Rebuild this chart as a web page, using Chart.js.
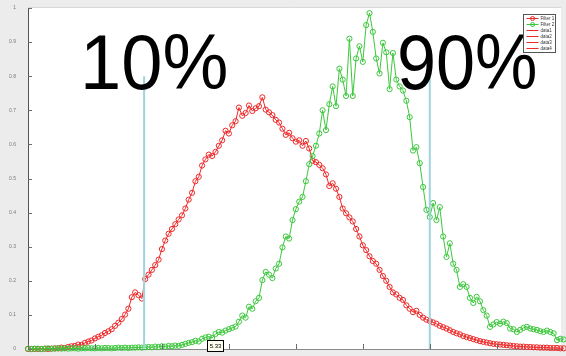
<!DOCTYPE html>
<html>
<head>
<meta charset="utf-8">
<script src="https://cdn.jsdelivr.net/npm/chart.js@4.4.1/dist/chart.umd.min.js"></script>
<style>
  html, body { margin: 0; padding: 0; background: #ececec; }
  #wrap { width: 566px; height: 356px; }
</style>
</head>
<body>
<div id="wrap"><canvas id="c" width="566" height="356"></canvas></div>
<script>
// Sampling grid of the two filter responses
const X_START = 4;
const X_STEP = 0.025;

// Filter 1 response (red)
const filter1 = [
  0,0,0,0,0,0.001,0,0.001,0.002,0.002,
  0.004,0.003,0.006,0.008,0.009,0.013,0.012,0.018,0.022,0.025,
  0.031,0.036,0.040,0.047,0.052,0.058,0.068,0.077,0.088,0.101,
  0.118,0.152,0.166,0.158,0.148,0.205,0.218,0.232,0.246,0.262,
  0.293,0.318,0.338,0.352,0.366,0.380,0.392,0.412,0.438,0.458,
  0.492,0.505,0.538,0.556,0.570,0.566,0.578,0.596,0.612,0.640,
  0.632,0.656,0.668,0.708,0.684,0.692,0.714,0.698,0.706,0.712,
  0.738,0.702,0.694,0.686,0.672,0.664,0.646,0.628,0.634,0.618,
  0.608,0.612,0.596,0.610,0.588,0.552,0.548,0.540,0.530,0.512,
  0.478,0.486,0.470,0.446,0.412,0.398,0.386,0.374,0.352,0.330,
  0.304,0.290,0.272,0.258,0.250,0.232,0.214,0.200,0.182,0.166,
  0.160,0.150,0.144,0.128,0.118,0.108,0.112,0.100,0.092,0.086,
  0.082,0.078,0.074,0.068,0.064,0.060,0.055,0.050,0.046,0.043,
  0.038,0.035,0.032,0.029,0.026,0.023,0.021,0.019,0.017,0.015,
  0.014,0.013,0.012,0.011,0.010,0.009,0.008,0.007,0.007,0.006,
  0.006,0.005,0.005,0.004,0.004,0.004,0.003,0.003,0.003,0.002,
  0.002
];

// Filter 2 response (green)
const filter2 = [
  0.001,0.000,0.001,0.001,0.000,0.001,0.002,0.001,0.001,0.002,
  0.001,0.002,0.001,0.002,0.002,0.001,0.002,0.002,0.003,0.002,
  0.002,0.003,0.002,0.003,0.003,0.002,0.003,0.004,0.003,0.004,
  0.003,0.004,0.004,0.005,0.004,0.005,0.006,0.005,0.007,0.006,
  0.008,0.007,0.009,0.008,0.010,0.009,0.012,0.015,0.018,0.020,
  0.024,0.022,0.030,0.034,0.036,0.032,0.044,0.050,0.048,0.054,
  0.058,0.062,0.066,0.080,0.098,0.092,0.124,0.118,0.140,0.150,
  0.202,0.226,0.218,0.208,0.236,0.250,0.298,0.330,0.324,0.378,
  0.410,0.432,0.446,0.492,0.542,0.566,0.596,0.632,0.700,0.642,
  0.718,0.770,0.712,0.822,0.790,0.742,0.910,0.742,0.852,0.888,
  0.842,0.950,0.985,0.930,0.852,0.808,0.898,0.870,0.762,0.868,
  0.790,0.770,0.758,0.728,0.680,0.582,0.592,0.545,0.475,0.408,
  0.387,0.428,0.378,0.416,0.330,0.270,0.310,0.250,0.232,0.182,
  0.190,0.182,0.150,0.135,0.153,0.140,0.114,0.098,0.065,0.072,
  0.079,0.074,0.080,0.076,0.060,0.058,0.050,0.056,0.062,0.065,
  0.060,0.058,0.056,0.052,0.050,0.054,0.050,0.046,0.026,0.030,
  0.028
];

const xTicks = [4, 4.5, 5, 5.5, 6, 6.5, 7, 7.5];
const yTicks = [0, 0.1, 0.2, 0.3, 0.4, 0.5, 0.6, 0.7, 0.8, 0.9, 1];

// Percentile markers
const p10 = 4.867;
const p90 = 7.0;
const markerTop = 0.8;
const percentLabels = ['10%', '90%'];

// Data tip value at the axis
const tipValue = 5.33;

const legendLabels = ['Filter 1', 'Filter 2', 'data1', 'data2', 'data3', 'data4'];

const RED = '#f02828';
const GREEN = '#3cc83c';
const CYAN = '#9fd3dd';

const toPoints = arr => arr.map((y, i) => ({ x: +(X_START + i * X_STEP).toFixed(3), y }));

const curveStyle = color => ({
  borderColor: color,
  borderWidth: 1,
  pointRadius: 2.6,
  pointBorderWidth: 1,
  pointBorderColor: color,
  pointBackgroundColor: 'rgba(255,255,255,0)',
  pointStyle: 'circle',
  tension: 0,
  clip: false
});

const inwardTicks = {
  id: 'inwardTicks',
  afterDraw(chart) {
    const { ctx, chartArea: a, scales: { x, y } } = chart;
    ctx.save();
    // light frame on top
    ctx.strokeStyle = '#d8d8d8';
    ctx.lineWidth = 1;
    ctx.beginPath();
    ctx.moveTo(a.left, a.top - 0.5);
    ctx.lineTo(a.right, a.top - 0.5);
    ctx.stroke();
    ctx.strokeStyle = '#6a6a6a';
    ctx.beginPath();
    xTicks.forEach(v => {
      const px = Math.round(x.getPixelForValue(v)) + 0.5;
      ctx.moveTo(px, a.bottom);
      ctx.lineTo(px, a.bottom - 5);
    });
    yTicks.forEach(v => {
      const py = Math.round(y.getPixelForValue(v)) + 0.5;
      ctx.moveTo(a.left, py);
      ctx.lineTo(a.left + 4, py);
    });
    ctx.stroke();
    ctx.restore();
  }
};

const overlays = {
  id: 'overlays',
  afterDraw(chart) {
    const { ctx, chartArea: a, scales: { x } } = chart;
    ctx.save();

    // large percentile captions
    ctx.fillStyle = '#000';
    ctx.font = '78px "Liberation Sans", Arial, sans-serif';
    ctx.textBaseline = 'alphabetic';
    ctx.textAlign = 'left';
    const drawScaled = (txt, left, base, sx) => {
      ctx.save();
      ctx.translate(left, base);
      ctx.scale(sx, 1);
      ctx.fillText(txt, 0, 0);
      ctx.restore();
    };
    drawScaled(percentLabels[0], 80, 89, 0.95);
    drawScaled(percentLabels[1], 397, 89, 0.9);

    // data tip box
    const tx = Math.round(x.getPixelForValue(tipValue)) + 1.5;
    const ty = a.bottom - 8.5;
    ctx.fillStyle = '#fffff0';
    ctx.fillRect(tx, ty, 16, 11);
    ctx.strokeStyle = '#000';
    ctx.lineWidth = 1;
    ctx.strokeRect(tx, ty, 16, 11);
    ctx.fillStyle = '#000';
    ctx.font = '6px "Liberation Sans", Arial, sans-serif';
    ctx.textAlign = 'center';
    ctx.textBaseline = 'middle';
    ctx.fillText(tipValue.toFixed(2), tx + 8, ty + 6);

    // legend box
    const lx = 523.5, ly = 14.5, lw = 32, rowH = 6;
    const lh = rowH * legendLabels.length + 2;
    ctx.fillStyle = '#fff';
    ctx.fillRect(lx, ly, lw, lh);
    ctx.strokeStyle = '#555';
    ctx.strokeRect(lx, ly, lw, lh);
    const colors = [RED, GREEN, RED, RED, RED, RED];
    ctx.font = '4.5px "Liberation Sans", Arial, sans-serif';
    ctx.textAlign = 'left';
    legendLabels.forEach((lab, i) => {
      const cy = ly + 4 + i * rowH;
      ctx.strokeStyle = colors[i];
      ctx.beginPath();
      ctx.moveTo(lx + 3, cy);
      ctx.lineTo(lx + 15, cy);
      ctx.stroke();
      if (i < 2) {
        ctx.beginPath();
        ctx.arc(lx + 9, cy, 2, 0, Math.PI * 2);
        ctx.stroke();
      }
      ctx.fillStyle = '#333';
      ctx.fillText(lab, lx + 17, cy + 0.5);
    });
    ctx.restore();
  }
};

const whiteArea = {
  id: 'whiteArea',
  beforeDraw(chart) {
    const { ctx, chartArea: a } = chart;
    ctx.save();
    ctx.fillStyle = '#ececec';
    ctx.fillRect(0, 0, chart.width, chart.height);
    ctx.fillStyle = '#fff';
    ctx.fillRect(a.left, a.top, a.right - a.left, a.bottom - a.top);
    ctx.restore();
  }
};

new Chart(document.getElementById('c'), {
  type: 'line',
  data: {
    datasets: [
      { label: 'data1', data: [{ x: p10, y: 0 }, { x: p10, y: markerTop }], borderColor: CYAN, borderWidth: 2, pointRadius: 0, order: 0, clip: false },
      { label: 'data2', data: [{ x: p90, y: 0 }, { x: p90, y: markerTop }], borderColor: CYAN, borderWidth: 2, pointRadius: 0, order: 0, clip: false },
      { label: 'Filter 2', data: toPoints(filter2), ...curveStyle(GREEN), order: 1 },
      { label: 'Filter 1', data: toPoints(filter1), ...curveStyle(RED), order: 2 }
    ]
  },
  options: {
    responsive: false,
    devicePixelRatio: 1,
    animation: false,
    layout: { padding: { top: 8, right: 0, left: 0, bottom: 0 } },
    plugins: { legend: { display: false }, tooltip: { enabled: false } },
    scales: {
      x: {
        type: 'linear',
        min: 4,
        max: 7.98,
        afterBuildTicks: s => { s.ticks = xTicks.map(v => ({ value: v })); },
        afterFit: s => { s.height = 7; },
        grid: { display: false },
        border: { display: true, color: '#8a8a8a', width: 1 },
        ticks: {
          autoSkip: false, maxRotation: 0, padding: 1,
          color: '#777', font: { size: 5, family: '"Liberation Sans", Arial, sans-serif' },
          callback: v => String(v)
        }
      },
      y: {
        min: 0,
        max: 1,
        afterBuildTicks: s => { s.ticks = yTicks.map(v => ({ value: v })); },
        afterFit: s => { s.width = 28; },
        grid: { display: false },
        border: { display: true, color: '#555', width: 1 },
        ticks: {
          padding: 4,
          color: '#777', font: { size: 5, family: '"Liberation Sans", Arial, sans-serif' },
          callback: v => (v === 0 || v === 1) ? String(v) : v.toFixed(1)
        }
      }
    }
  },
  plugins: [whiteArea, inwardTicks, overlays]
});
</script>
</body>
</html>
